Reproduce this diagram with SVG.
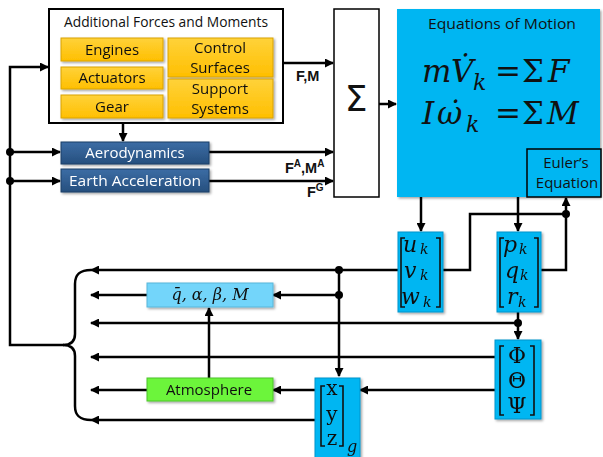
<svg xmlns="http://www.w3.org/2000/svg" width="603" height="457" viewBox="0 0 603 457">
<defs>
<style>
.sans{font-family:"Open Sans","Noto Sans","DejaVu Sans",sans-serif;}
.lbl{font-size:15px;fill:#111;text-anchor:middle;}
.wl{font-size:15px;fill:#fff;text-anchor:middle;}
.bold{font-family:"Liberation Sans",Arial,sans-serif;font-weight:bold;font-size:14.5px;fill:#111;}
.math{font-family:"DejaVu Serif","Liberation Serif",serif;font-style:italic;fill:#111;}
.up{font-family:"DejaVu Serif","Liberation Serif",serif;font-style:normal;fill:#111;}
.c{fill:none;stroke:#000;stroke-width:2.5;}
.ca{fill:none;stroke:#000;stroke-width:2.5;marker-end:url(#ah);}
.yel{fill:url(#gy);stroke:#D9A200;stroke-width:1;}
.dblue{fill:url(#gb);stroke:#1C3F66;stroke-width:1;}
.cyan{fill:#00B6F2;stroke:#0094CC;stroke-width:1;}
.brk{fill:none;stroke:#111;stroke-width:1.6;}
.sub{font-size:14px;}
</style>
<linearGradient id="gy" x1="0" y1="0" x2="0" y2="1"><stop offset="0" stop-color="#FFD23A"/><stop offset="1" stop-color="#FFBF00"/></linearGradient>
<linearGradient id="gb" x1="0" y1="0" x2="0" y2="1"><stop offset="0" stop-color="#3C6DA5"/><stop offset="1" stop-color="#264F7E"/></linearGradient>
<filter id="sh" x="-10%" y="-10%" width="130%" height="130%"><feDropShadow dx="1.5" dy="1.5" stdDeviation="1.2" flood-color="#000" flood-opacity="0.35"/></filter>
<marker id="ah" viewBox="0 0 9 9" refX="8" refY="4.5" markerWidth="9" markerHeight="9" markerUnits="userSpaceOnUse" orient="auto"><path d="M0,0 L9,4.5 L0,9 z" fill="#000"/></marker>
</defs>
<rect width="603" height="457" fill="#fff"/>

<g id="connectors">
<path class="ca" d="M64,345 H10 V67 H48"/>
<path class="ca" d="M10,152 H60"/>
<path class="ca" d="M10,181 H60"/>
<path class="ca" d="M123,123 V141"/>
<path class="ca" d="M283,63 H333"/>
<path class="ca" d="M209,152 H333"/>
<path class="ca" d="M209,181 H333"/>
<path class="ca" d="M379,104 H396"/>
<path class="ca" d="M421,197 V231"/>
<path class="ca" d="M518,197 V231"/>
<path class="c" d="M443,270 H470 V214 H566"/>
<path class="ca" d="M541,270 H566 V198"/>
<path class="ca" d="M399,270 H91"/>
<path class="ca" d="M339,270 V376"/>
<path class="ca" d="M339,295 H273"/>
<path class="ca" d="M147,295 H91"/>
<path class="ca" d="M518,312 V339"/>
<path class="ca" d="M518,323 H91"/>
<path class="ca" d="M496,357 H91"/>
<path class="ca" d="M496,390 H360"/>
<path class="ca" d="M315,390 H273"/>
<path class="ca" d="M147,390 H91"/>
<path class="ca" d="M315,420 H91"/>
<path class="ca" d="M209,378 V308"/>
<path class="c" d="M91,270 C80,270 75,274 75,284 V334 C75,341 71,345 63,345 C71,345 75,349 75,356 V406 C75,416 80,420 91,420"/>
<g fill="#000">
<circle cx="10" cy="152" r="4"/>
<circle cx="10" cy="181" r="4"/>
<circle cx="566" cy="214" r="4"/>
<circle cx="339" cy="270" r="4"/>
<circle cx="339" cy="295" r="4"/>
<circle cx="518" cy="323" r="4"/>
</g>
<text class="bold" x="296" y="81">F,M</text>
<text class="bold" x="285" y="173">F<tspan font-size="10" dy="-6">A</tspan><tspan dy="6">,M</tspan><tspan font-size="10" dy="-6">A</tspan></text>
<text class="bold" x="307" y="197">F<tspan font-size="10" dy="-6">G</tspan></text>
</g>

<g id="additional-forces">
<rect x="49" y="9" width="234" height="114" fill="#fff" stroke="#000" stroke-width="2"/>
<text class="sans lbl" x="166" y="27" font-size="14.5" textLength="204" lengthAdjust="spacingAndGlyphs">Additional Forces and Moments</text>
</g>
<g id="engines" filter="url(#sh)">
<rect class="yel" x="61" y="38" width="102" height="23"/>
<text class="sans lbl" x="112" y="55">Engines</text>
</g>
<g id="actuators" filter="url(#sh)">
<rect class="yel" x="61" y="67" width="102" height="22"/>
<text class="sans lbl" x="112" y="83">Actuators</text>
</g>
<g id="gear" filter="url(#sh)">
<rect class="yel" x="61" y="95" width="102" height="23"/>
<text class="sans lbl" x="112" y="112">Gear</text>
</g>
<g id="control-surfaces" filter="url(#sh)">
<rect class="yel" x="168" y="38" width="105" height="39"/>
<text class="sans lbl" x="220" y="53">Control</text>
<text class="sans lbl" x="220" y="73">Surfaces</text>
</g>
<g id="support-systems" filter="url(#sh)">
<rect class="yel" x="168" y="79" width="105" height="39"/>
<text class="sans lbl" x="220" y="94">Support</text>
<text class="sans lbl" x="220" y="114">Systems</text>
</g>

<g id="aerodynamics" filter="url(#sh)">
<rect class="dblue" x="61" y="142" width="148" height="22"/>
<text class="sans wl" x="135" y="158">Aerodynamics</text>
</g>
<g id="earth-acceleration" filter="url(#sh)">
<rect class="dblue" x="61" y="169" width="148" height="23"/>
<text class="sans wl" x="135" y="186" textLength="132" lengthAdjust="spacingAndGlyphs">Earth Acceleration</text>
</g>

<g id="sum">
<rect x="334" y="9" width="45" height="188" fill="#fff" stroke="#000" stroke-width="1.5"/>
<text x="356" y="111" font-family="'DejaVu Sans','Liberation Sans',sans-serif" font-size="36" text-anchor="middle" fill="#111">Σ</text>
</g>

<g id="equations-of-motion">
<rect x="397" y="9" width="203" height="188" fill="#00B6F2" filter="url(#sh)"/>
<text class="sans lbl" x="502" y="29" textLength="148" lengthAdjust="spacingAndGlyphs">Equations of Motion</text>
<text class="math" font-size="31" x="422" y="82">m</text>
<text class="math" font-size="31" x="451" y="82">V&#x307;</text>
<text class="math" font-size="22" x="473" y="90">k</text>
<text class="up" font-size="31" x="495" y="82">=</text>
<text class="up" font-size="31" x="522" y="82">Σ</text>
<text class="math" font-size="31" x="548" y="82">F</text>
<text class="math" font-size="31" x="422" y="124">I</text>
<text class="math" font-size="31" x="437" y="124">ω&#x307;</text>
<text class="math" font-size="22" x="466" y="132">k</text>
<text class="up" font-size="31" x="495" y="124">=</text>
<text class="up" font-size="31" x="522" y="124">Σ</text>
<text class="math" font-size="31" x="547" y="124">M</text>
</g>
<g id="euler">
<rect x="527" y="149" width="74" height="48" fill="#00B6F2" stroke="#000" stroke-width="1.5"/>
<text class="sans lbl" x="566" y="168">Euler’s</text>
<text class="sans lbl" x="567" y="188">Equation</text>
</g>

<g id="uvw" filter="url(#sh)">
<rect class="cyan" x="398" y="232" width="45" height="80"/>
<path class="brk" d="M405,238 H401 V307 H405 M436,238 H440 V307 H436"/>
<text class="math" font-size="22"><tspan x="403" y="252">u</tspan><tspan class="sub" x="420" y="254">k</tspan><tspan x="404" y="278">v</tspan><tspan class="sub" x="420" y="280">k</tspan><tspan x="401" y="304">w</tspan><tspan class="sub" x="423" y="307">k</tspan></text>
</g>
<g id="pqr" filter="url(#sh)">
<rect class="cyan" x="497" y="232" width="44" height="80"/>
<path class="brk" d="M504,238 H500 V307 H504 M534,238 H538 V307 H534"/>
<text class="math" font-size="22"><tspan x="503" y="252">p</tspan><tspan class="sub" x="519" y="254">k</tspan><tspan x="505" y="278">q</tspan><tspan class="sub" x="520" y="280">k</tspan><tspan x="507" y="304">r</tspan><tspan class="sub" x="518" y="307">k</tspan></text>
</g>
<g id="euler-angles" filter="url(#sh)">
<rect class="cyan" x="495" y="340" width="46" height="79"/>
<path class="brk" d="M504,346 H500 V415 H504 M530,346 H534 V415 H530"/>
<text class="up" font-size="22" x="517" y="363" text-anchor="middle">Φ</text>
<text class="up" font-size="22" x="517" y="388" text-anchor="middle">Θ</text>
<text class="up" font-size="22" x="517" y="413" text-anchor="middle">Ψ</text>
</g>
<g id="position" filter="url(#sh)">
<rect class="cyan" x="315" y="378" width="45" height="82"/>
<path class="brk" d="M325,386 H321 V446 H325 M339,386 H343 V446 H339"/>
<text class="up" font-size="20" x="332" y="395" text-anchor="middle">x</text>
<text class="up" font-size="20" x="332" y="421" text-anchor="middle">y</text>
<text class="up" font-size="20" x="332" y="445" text-anchor="middle">z</text>
<text class="math" font-size="16" x="347" y="452">g</text>
</g>

<g id="air-data" filter="url(#sh)">
<rect x="147" y="283" width="126" height="24" fill="#73D5FA" stroke="#58B6DA" stroke-width="1"/>
<text class="math" font-size="16" x="210" y="300" text-anchor="middle">q&#x304;, α, β, M</text>
</g>
<g id="atmosphere" filter="url(#sh)">
<rect x="147" y="378" width="126" height="23" fill="#6CF53B" stroke="#4DC42A" stroke-width="1"/>
<text class="sans lbl" x="209" y="395">Atmosphere</text>
</g>
</svg>
